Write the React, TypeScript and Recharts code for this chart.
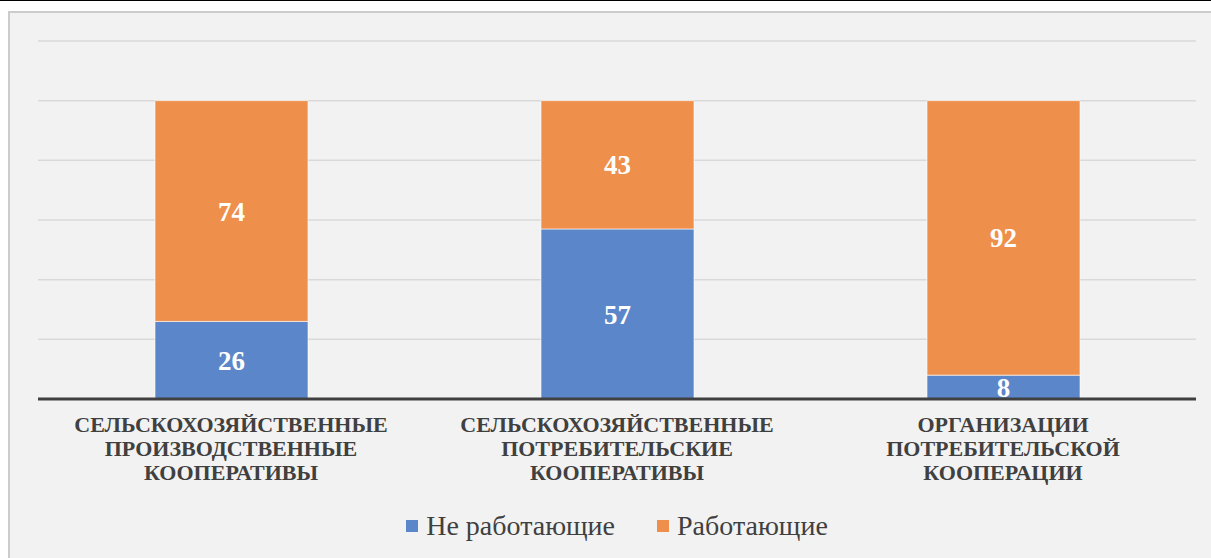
import React from 'react';
import { BarChart, Bar, XAxis, YAxis, CartesianGrid, LabelList, Legend } from 'recharts';

const categoryLines: string[][] = [
  ['СЕЛЬСКОХОЗЯЙСТВЕННЫЕ', 'ПРОИЗВОДСТВЕННЫЕ', 'КООПЕРАТИВЫ'],
  ['СЕЛЬСКОХОЗЯЙСТВЕННЫЕ', 'ПОТРЕБИТЕЛЬСКИЕ', 'КООПЕРАТИВЫ'],
  ['ОРГАНИЗАЦИИ', 'ПОТРЕБИТЕЛЬСКОЙ', 'КООПЕРАЦИИ'],
];
const notWorking: number[] = [26, 57, 8];
const working: number[] = [74, 43, 92];
const yTicks: number[] = [0, 20, 40, 60, 80, 100, 120];
const seriesNames = { notWorking: 'Не работающие', working: 'Работающие' };

const BLUE = '#5b86c9';
const ORANGE = '#ee8f4c';
const TEXT = '#404040';
const SERIF = '"Liberation Serif", "Times New Roman", serif';

const data = categoryLines.map((lines, i) => ({
  name: lines.join(' '),
  idx: i,
  notWorking: notWorking[i],
  working: working[i],
}));

const CategoryTick = (props: any) => {
  const { x, y, payload } = props;
  const lines = categoryLines[payload.index] || [String(payload.value)];
  return (
    <g>
      {lines.map((ln, k) => (
        <text
          key={k}
          x={x}
          y={y + 33 + k * 24}
          textAnchor="middle"
          fill={TEXT}
          fontFamily={SERIF}
          fontWeight="bold"
          fontSize={22}
        >
          {ln}
        </text>
      ))}
    </g>
  );
};

const LegendContent = (props: any) => {
  const items = props.payload || [];
  return (
    <div
      style={{
        display: 'flex',
        justifyContent: 'center',
        alignItems: 'center',
        height: 40,
        fontFamily: SERIF,
        fontSize: 28,
        color: TEXT,
      }}
    >
      {items.map((it: any, i: number) => (
        <div key={i} style={{ display: 'flex', alignItems: 'center', marginRight: i < items.length - 1 ? 42 : 0 }}>
          <span style={{ display: 'inline-block', width: 12, height: 12, background: it.color, marginRight: 8 }} />
          <span>{it.value}</span>
        </div>
      ))}
    </div>
  );
};

export default function App() {
  return (
    <div style={{ position: 'fixed', left: 0, top: 0, width: 1211, height: 558, overflow: 'hidden', background: '#ffffff' }}>
      <div style={{ position: 'absolute', left: 0, top: 0, width: 1211, height: 1, background: '#000' }} />
      <div
        style={{
          position: 'absolute',
          left: 8,
          top: 11,
          width: 1240,
          height: 600,
          background: '#f2f2f2',
          border: '2px solid #cccccc',
          boxSizing: 'border-box',
        }}
      />
      <div style={{ position: 'absolute', left: 0, top: 0 }}>
        <BarChart
          width={1211}
          height={558}
          data={data}
          margin={{ top: 41, right: 15, left: 38, bottom: 12 }}
          barSize={153}
        >
          <CartesianGrid vertical={false} stroke="#d9d9d9" strokeWidth={1.5} />
          <YAxis hide domain={[0, 120]} ticks={yTicks} type="number" />
          <XAxis
            dataKey="name"
            height={107}
            tickLine={false}
            tickSize={0}
            tickMargin={0}
            axisLine={{ stroke: TEXT, strokeWidth: 3 }}
            tick={<CategoryTick />}
            interval={0}
          />
          <Legend verticalAlign="bottom" content={<LegendContent />} wrapperStyle={{ height: 40 }} />
          <Bar
            dataKey="notWorking"
            name={seriesNames.notWorking}
            stackId="a"
            fill={BLUE}
            stroke="#ffffff"
            strokeOpacity={0.6}
            strokeWidth={1}
            isAnimationActive={false}
          >
            <LabelList
              dataKey="notWorking"
              position="center"
              fill="#ffffff"
              fontFamily={SERIF}
              fontWeight="bold"
              fontSize={27}
            />
          </Bar>
          <Bar
            dataKey="working"
            name={seriesNames.working}
            stackId="a"
            fill={ORANGE}
            stroke="#ffffff"
            strokeOpacity={0.6}
            strokeWidth={1}
            isAnimationActive={false}
          >
            <LabelList
              dataKey="working"
              position="center"
              fill="#ffffff"
              fontFamily={SERIF}
              fontWeight="bold"
              fontSize={27}
            />
          </Bar>
        </BarChart>
      </div>
    </div>
  );
}
